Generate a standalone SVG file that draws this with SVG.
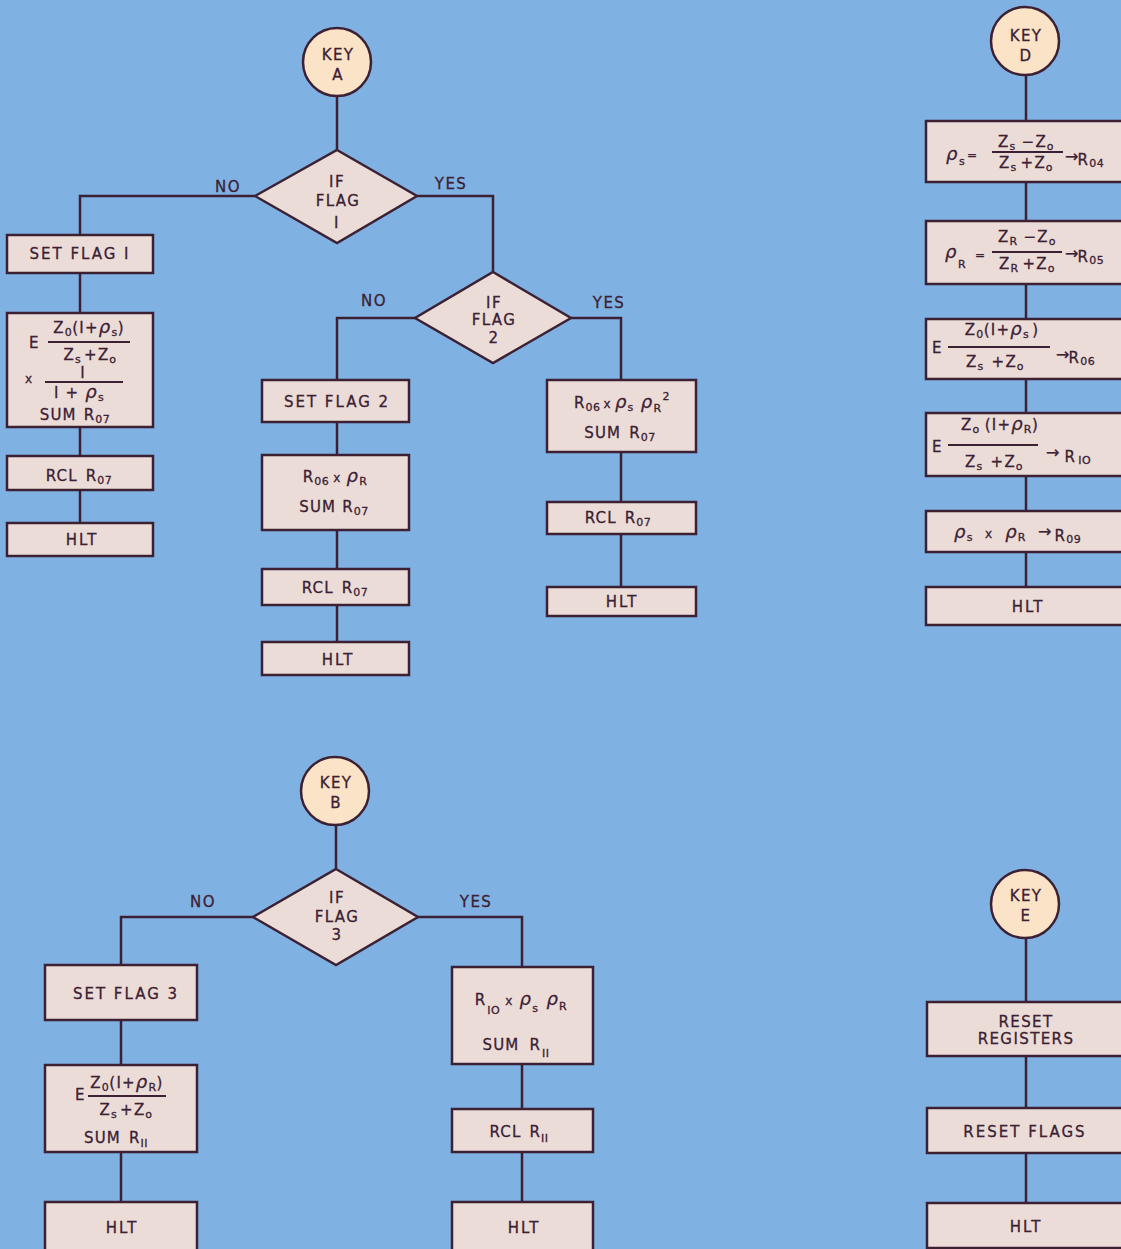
<svg xmlns="http://www.w3.org/2000/svg" width="1121" height="1249" viewBox="0 0 1121 1249">
<style>
.bg{fill:#80b1e3}
.box{fill:#ecdcd8;stroke:#3b2133;stroke-width:2.5}
.circ{fill:#fbe3c8;stroke:#3b2133;stroke-width:2.5}
.ln{fill:none;stroke:#3b2133;stroke-width:2.5}
.bar{stroke:#3b2133;stroke-width:1.8}
text{font-family:"DejaVu Sans","Liberation Sans",sans-serif;fill:#3b2133;stroke:#3b2133;stroke-width:0.3;text-anchor:middle}
.t{font-size:15px;letter-spacing:2px}
.d{font-size:15px;letter-spacing:1.4px}
.f{font-size:15px;letter-spacing:1.2px}
.st{text-anchor:start}
.s{font-size:11px;letter-spacing:0.5px}
.g{font-style:italic;font-size:18px}
.x{font-size:12px}
.a{font-size:16px}
</style>
<rect class="bg" x="0" y="0" width="1121" height="1249"/>

<g id="connectors">
<path class="ln" d="M337,96 V150 M255,196 H80 V235 M417,196 H493 V272 M415,318 H337 V380 M571,318 H621 V380 M80,273 V313 M80,427 V456 M80,490 V523 M337,422 V455 M337,530 V569 M337,605 V642 M621,452 V502 M621,534 V587"/>
<path class="ln" d="M1026,75 V121 M1026,182 V221 M1026,284 V319 M1026,379 V413 M1026,476 V511 M1026,552 V587"/>
<path class="ln" d="M336,825 V869 M253,917 H121 V965 M418,917 H522 V967 M121,1020 V1065 M121,1152 V1202 M522,1064 V1109 M522,1152 V1202"/>
<path class="ln" d="M1026,938 V1002 M1026,1056 V1108 M1026,1153 V1203"/>
<text class="d" x="228" y="192">NO</text>
<text class="d" x="451" y="189">YES</text>
<text class="d" x="374" y="306">NO</text>
<text class="d" x="609" y="308">YES</text>
<text class="d" x="203" y="907">NO</text>
<text class="d" x="476" y="907">YES</text>
</g>

<g id="keyA">
<circle class="circ" cx="337" cy="62" r="34"/>
<text class="d" x="338" y="60">KEY</text>
<text class="d" x="338" y="80">A</text>
</g>
<g id="flag1">
<polygon class="box" points="337,150 417,196 337,243 255,196"/>
<text class="d" x="337" y="187">IF</text>
<text class="d" x="338" y="206">FLAG</text>
<text class="d" x="337" y="228">I</text>
</g>
<g id="setflag1">
<rect class="box" x="7" y="235" width="146" height="38"/>
<text class="t" x="80" y="259">SET FLAG I</text>
</g>
<g id="formulaA">
<rect class="box" x="7" y="313" width="146" height="114"/>
<text class="f st" x="29" y="348">E</text>
<text class="f" x="89" y="333">Z<tspan class="s" dy="3">0</tspan><tspan dy="-3">(I+</tspan><tspan class="g">ρ</tspan><tspan class="s" dy="3">s</tspan><tspan dy="-3">)</tspan></text>
<line class="bar" x1="48" y1="342" x2="130" y2="342"/>
<text class="f" x="90" y="360">Z<tspan class="s" dy="3">s</tspan><tspan dy="-3" dx="3">+Z</tspan><tspan class="s" dy="3">o</tspan></text>
<text class="f st x" x="25" y="383">x</text>
<line class="bar" x1="45" y1="382" x2="123" y2="382"/>
<text class="f" x="83" y="378">I</text>
<text class="f" x="79" y="398">I + <tspan class="g">ρ</tspan><tspan class="s" dy="3">s</tspan></text>
<text class="f" x="75" y="420">SUM<tspan dx="7">R</tspan><tspan class="s" dy="3">07</tspan></text>
</g>
<g id="rclA1">
<rect class="box" x="7" y="456" width="146" height="34"/>
<text class="f" x="79" y="481">RCL<tspan dx="8">R</tspan><tspan class="s" dy="3">07</tspan></text>
</g>
<g id="hltA1">
<rect class="box" x="7" y="523" width="146" height="33"/>
<text class="t" x="82" y="545">HLT</text>
</g>

<g id="flag2">
<polygon class="box" points="493,272 571,318 493,363 415,318"/>
<text class="d" x="494" y="308">IF</text>
<text class="d" x="494" y="325">FLAG</text>
<text class="d" x="494" y="343">2</text>
</g>
<g id="setflag2">
<rect class="box" x="262" y="380" width="147" height="42"/>
<text class="t" x="337" y="407">SET FLAG 2</text>
</g>
<g id="r06pr">
<rect class="box" x="262" y="455" width="147" height="75"/>
<text class="f" x="335" y="482">R<tspan class="s" dy="3">06</tspan><tspan class="x" dy="-3" dx="4">x</tspan><tspan class="g" dx="5">ρ</tspan><tspan class="s" dy="3">R</tspan></text>
<text class="f" x="334" y="512">SUM<tspan dx="6">R</tspan><tspan class="s" dy="3">07</tspan></text>
</g>
<g id="rclA2">
<rect class="box" x="262" y="569" width="147" height="36"/>
<text class="f" x="335" y="593">RCL<tspan dx="8">R</tspan><tspan class="s" dy="3">07</tspan></text>
</g>
<g id="hltA2">
<rect class="box" x="262" y="642" width="147" height="33"/>
<text class="t" x="338" y="665">HLT</text>
</g>
<g id="r06psr2">
<rect class="box" x="547" y="380" width="149" height="72"/>
<text class="f" x="622" y="408">R<tspan class="s" dy="3">06</tspan><tspan class="x" dy="-3" dx="3">x</tspan><tspan class="g" dx="3">ρ</tspan><tspan class="s" dy="3">s</tspan><tspan class="g" dy="-3" dx="7">ρ</tspan><tspan class="s" dy="4">R</tspan><tspan class="s" dy="-12" dx="1">2</tspan></text>
<text class="f" x="620" y="438">SUM<tspan dx="8">R</tspan><tspan class="s" dy="3">07</tspan></text>
</g>
<g id="rclA3">
<rect class="box" x="547" y="502" width="149" height="32"/>
<text class="f" x="618" y="523">RCL<tspan dx="8">R</tspan><tspan class="s" dy="3">07</tspan></text>
</g>
<g id="hltA3">
<rect class="box" x="547" y="587" width="149" height="29"/>
<text class="t" x="622" y="607">HLT</text>
</g>

<g id="keyD">
<circle class="circ" cx="1025" cy="41" r="34"/>
<text class="d" x="1026" y="41">KEY</text>
<text class="d" x="1026" y="61">D</text>
</g>
<g id="rhoS">
<rect class="box" x="926" y="121" width="210" height="61"/>
<text class="f st g" x="946" y="160">ρ</text>
<text class="f st s" x="959" y="165">s</text>
<text class="f st x" x="967" y="159">=</text>
<text class="f" x="1026" y="147">Z<tspan class="s" dy="3">s</tspan><tspan dy="-3" dx="6">−Z</tspan><tspan class="s" dy="3">o</tspan></text>
<line class="bar" x1="992" y1="152" x2="1063" y2="152"/>
<text class="f" x="1026" y="168">Z<tspan class="s" dy="3">s</tspan><tspan dy="-3" dx="4">+Z</tspan><tspan class="s" dy="3">o</tspan></text>
<text class="f st" x="1065" y="162"><tspan class="a">→</tspan><tspan dy="3" dx="-2">R</tspan><tspan class="s" dy="2">04</tspan></text>
</g>
<g id="rhoR">
<rect class="box" x="926" y="221" width="210" height="63"/>
<text class="f st g" x="945" y="258">ρ</text>
<text class="f st s" x="958" y="268">R</text>
<text class="f st x" x="975" y="259">=</text>
<text class="f" x="1027" y="242">Z<tspan class="s" dy="3">R</tspan><tspan dy="-3" dx="6">−Z</tspan><tspan class="s" dy="3">o</tspan></text>
<line class="bar" x1="992" y1="252" x2="1062" y2="252"/>
<text class="f" x="1027" y="269">Z<tspan class="s" dy="3">R</tspan><tspan dy="-3" dx="4">+Z</tspan><tspan class="s" dy="3">o</tspan></text>
<text class="f st" x="1065" y="259"><tspan class="a">→</tspan><tspan dy="3" dx="-2">R</tspan><tspan class="s" dy="2">05</tspan></text>
</g>
<g id="r06">
<rect class="box" x="926" y="319" width="210" height="60"/>
<text class="f st" x="932" y="353">E</text>
<text class="f" x="1002" y="335">Z<tspan class="s" dy="3">0</tspan><tspan dy="-3">(I+</tspan><tspan class="g">ρ</tspan><tspan class="s" dy="3">s</tspan><tspan dy="-3" dx="3">)</tspan></text>
<line class="bar" x1="948" y1="347" x2="1050" y2="347"/>
<text class="f" x="995" y="367">Z<tspan class="s" dy="3">s</tspan><tspan dy="-3" dx="8">+Z</tspan><tspan class="s" dy="3">o</tspan></text>
<text class="f st" x="1056" y="360"><tspan class="a">→</tspan><tspan dy="3" dx="-2">R</tspan><tspan class="s" dy="2">06</tspan></text>
</g>
<g id="r10">
<rect class="box" x="926" y="413" width="210" height="63"/>
<text class="f st" x="932" y="452">E</text>
<text class="f" x="1000" y="430">Z<tspan class="s" dy="3">o</tspan><tspan dy="-3" dx="5">(I+</tspan><tspan class="g">ρ</tspan><tspan class="s" dy="3">R</tspan><tspan dy="-3">)</tspan></text>
<line class="bar" x1="948" y1="445" x2="1038" y2="445"/>
<text class="f" x="994" y="467">Z<tspan class="s" dy="3">s</tspan><tspan dy="-3" dx="8">+Z</tspan><tspan class="s" dy="3">o</tspan></text>
<text class="f st" x="1046" y="458"><tspan class="a">→</tspan><tspan dy="4" dx="4">R</tspan><tspan class="s" dy="2" dx="2">IO</tspan></text>
</g>
<g id="r09">
<rect class="box" x="926" y="511" width="210" height="41"/>
<text class="f st" x="954" y="538"><tspan class="g">ρ</tspan><tspan class="s" dy="3">s</tspan><tspan class="x" dy="-3" dx="12">x</tspan><tspan class="g" dx="12">ρ</tspan><tspan class="s" dy="3">R</tspan><tspan class="a" dy="-4" dx="12">→</tspan><tspan dy="4" dx="2">R</tspan><tspan class="s" dy="2">09</tspan></text>
</g>
<g id="hltD">
<rect class="box" x="926" y="587" width="210" height="38"/>
<text class="t" x="1028" y="612">HLT</text>
</g>

<g id="keyB">
<circle class="circ" cx="335" cy="791" r="34"/>
<text class="d" x="336" y="788">KEY</text>
<text class="d" x="336" y="808">B</text>
</g>
<g id="flag3">
<polygon class="box" points="336,869 418,917 336,965 253,917"/>
<text class="d" x="337" y="903">IF</text>
<text class="d" x="337" y="922">FLAG</text>
<text class="d" x="337" y="940">3</text>
</g>
<g id="setflag3">
<rect class="box" x="45" y="965" width="152" height="55"/>
<text class="t" x="126" y="999">SET FLAG 3</text>
</g>
<g id="formulaB">
<rect class="box" x="45" y="1065" width="152" height="87"/>
<text class="f st" x="75" y="1100">E</text>
<text class="f" x="127" y="1088">Z<tspan class="s" dy="3">0</tspan><tspan dy="-3">(I+</tspan><tspan class="g">ρ</tspan><tspan class="s" dy="3">R</tspan><tspan dy="-3">)</tspan></text>
<line class="bar" x1="88" y1="1096" x2="166" y2="1096"/>
<text class="f" x="126" y="1115">Z<tspan class="s" dy="3">s</tspan><tspan dy="-3" dx="3">+Z</tspan><tspan class="s" dy="3">o</tspan></text>
<text class="f" x="116" y="1143">SUM<tspan dx="8">R</tspan><tspan class="s" dy="4">II</tspan></text>
</g>
<g id="hltB1">
<rect class="box" x="45" y="1202" width="152" height="60"/>
<text class="t" x="122" y="1233">HLT</text>
</g>
<g id="r10psr">
<rect class="box" x="452" y="967" width="141" height="97"/>
<text class="f" x="521" y="1005">R<tspan class="s" dy="9" dx="1">IO</tspan><tspan class="x" dy="-9" dx="5">x</tspan><tspan class="g" dx="6">ρ</tspan><tspan class="s" dy="7">s</tspan><tspan class="g" dy="-7" dx="8">ρ</tspan><tspan class="s" dy="5">R</tspan></text>
<text class="f" x="516" y="1050">SUM<tspan dx="10">R</tspan><tspan class="s" dy="7" dx="1">II</tspan></text>
</g>
<g id="rclB">
<rect class="box" x="452" y="1109" width="141" height="43"/>
<text class="f" x="519" y="1137">RCL<tspan dx="8">R</tspan><tspan class="s" dy="5">II</tspan></text>
</g>
<g id="hltB2">
<rect class="box" x="452" y="1202" width="141" height="60"/>
<text class="t" x="524" y="1233">HLT</text>
</g>

<g id="keyE">
<circle class="circ" cx="1025" cy="904" r="34"/>
<text class="d" x="1026" y="901">KEY</text>
<text class="d" x="1026" y="921">E</text>
</g>
<g id="resetRegisters">
<rect class="box" x="927" y="1002" width="210" height="54"/>
<text class="d" x="1026" y="1027">RESET</text>
<text class="d" x="1026" y="1044">REGISTERS</text>
</g>
<g id="resetFlags">
<rect class="box" x="927" y="1108" width="210" height="45"/>
<text class="t" x="1025" y="1137">RESET FLAGS</text>
</g>
<g id="hltE">
<rect class="box" x="927" y="1203" width="210" height="45"/>
<text class="t" x="1026" y="1232">HLT</text>
</g>
</svg>
